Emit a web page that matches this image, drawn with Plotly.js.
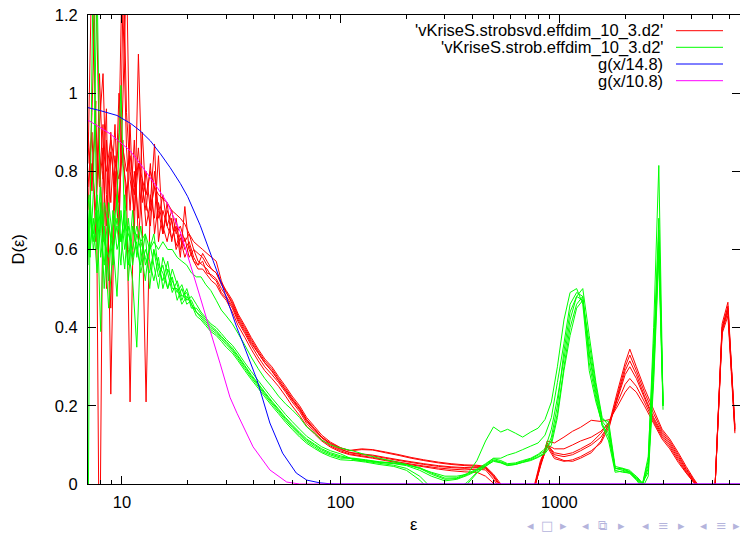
<!DOCTYPE html>
<html><head><meta charset="utf-8">
<script src="https://cdn.plot.ly/plotly-3.0.1.min.js"></script>
<style>html,body{margin:0;padding:0;background:#fff}#chart{width:740px;height:534px}</style>
</head><body><div id="chart"></div>
<script>
// ---------- data: 'vKriseS.strobsvd.effdim_10_3.d2' (red, several blocks) ----------
const redEps = [7.0, 7.3, 7.6, 7.9, 8.2, 8.5, 8.9, 9.3, 9.7, 10.1, 10.5, 10.9, 11.4, 11.9, 12.4, 12.9, 13.5, 14.1, 14.7, 15.4, 16.1, 16.9, 17.7, 18.5, 19.4, 20.3, 21.3, 22.3,
  23.4, 24.5, 25.7, 27, 28.5, 30, 32, 34, 36.5, 39, 42, 45, 48.5, 52, 56, 60, 65, 70, 76, 82, 90, 100,
  110, 125, 140, 160, 185, 210, 240, 280, 320, 370, 420, 460, 500, 540, 600, 700, 770, 820, 880, 950,
  1050, 1150, 1250, 1400, 1550, 1700, 1850, 2000, 2100, 2250, 2450, 2700, 2950, 3200, 3500, 3800, 4100, 4400, 4800, 5150, 5550, 5900, 6350];
const red1 = [0.82, 1.35, 0.88, 0.78, 0.92, 0.50, 0.85, 0.76, 0.90, 1.40, 0.95, 0.80, 0.74, 0.86, 0.72, 0.80, 0.70, 0.76, 0.68, 0.74, 0.66, 0.70, 0.64, 0.66, 0.62, 0.64, 0.60, 0.59,
  0.58, 0.56, 0.55, 0.54, 0.51, 0.49, 0.465, 0.43, 0.40, 0.37, 0.34, 0.315, 0.295, 0.27, 0.245, 0.22, 0.195, 0.165, 0.142, 0.12, 0.103, 0.09,
  0.08, 0.075, 0.072, 0.066, 0.06, 0.055, 0.05, 0.045, 0.042, 0.04, 0.042, 0.04, 0.018, -0.01, -0.05, -0.05, -0.01, 0.045, 0.10, 0.07,
  0.06, 0.058, 0.066, 0.08, 0.11, 0.16, 0.24, 0.31, 0.345, 0.30, 0.245, 0.19, 0.14, 0.115, 0.08, 0.045, 0.015, -0.01, -0.05, -0.01, 0.41, 0.465, 0.14];
const red2 = [0.70, 0.95, 1.30, 0.85, 0.62, 0.88, 0.72, 0.92, 0.66, 0.98, 1.32, 0.78, 0.70, 0.82, 0.66, 0.21, 0.74, 0.68, 0.84, 0.64, 0.72, 0.62, 0.68, 0.60, 0.63, 0.58, 0.60, 0.57,
  0.56, 0.55, 0.53, 0.52, 0.49, 0.475, 0.45, 0.415, 0.385, 0.355, 0.325, 0.30, 0.28, 0.26, 0.235, 0.21, 0.185, 0.155, 0.133, 0.113, 0.097, 0.085,
  0.077, 0.072, 0.068, 0.062, 0.056, 0.051, 0.046, 0.041, 0.038, 0.036, 0.038, 0.036, 0.012, -0.015, -0.05, -0.05, -0.005, 0.05, 0.095, 0.065,
  0.058, 0.062, 0.07, 0.085, 0.105, 0.15, 0.23, 0.30, 0.33, 0.29, 0.235, 0.18, 0.135, 0.11, 0.075, 0.04, 0.012, -0.01, -0.05, -0.01, 0.40, 0.45, 0.135];
const red3 = [0.90, 0.75, 0.98, -0.30, 0.80, 0.66, 0.90, 0.70, 1.00, 0.82, 0.76, 0.21, 0.80, 0.68, 0.90, 0.72, 0.66, 0.80, 0.70, 0.64, 0.70, 0.67, 0.61, 0.64, 0.60, 0.62, 0.58, 0.56,
  0.57, 0.54, 0.535, 0.525, 0.50, 0.48, 0.455, 0.42, 0.39, 0.36, 0.335, 0.31, 0.29, 0.265, 0.24, 0.215, 0.19, 0.16, 0.138, 0.118, 0.10, 0.088,
  0.081, 0.077, 0.074, 0.068, 0.062, 0.057, 0.052, 0.047, 0.044, 0.042, 0.044, 0.042, 0.02, -0.005, -0.05, -0.05, -0.008, 0.055, 0.105, 0.075,
  0.07, 0.075, 0.085, 0.10, 0.12, 0.155, 0.225, 0.29, 0.315, 0.28, 0.225, 0.17, 0.13, 0.105, 0.07, 0.037, 0.01, -0.012, -0.05, -0.01, 0.39, 0.44, 0.145];
const red4 = [0.60, 0.82, 0.70, 0.92, 1.05, 0.74, 0.45, 0.84, 0.72, 0.88, 0.70, 0.92, 0.64, 1.10, 0.76, 0.70, 0.82, 0.64, 0.72, 0.66, 0.62, 0.68, 0.60, 0.63, 0.58, 0.61, 0.57, 0.55,
  0.55, 0.535, 0.52, 0.51, 0.485, 0.47, 0.44, 0.405, 0.375, 0.345, 0.315, 0.29, 0.27, 0.25, 0.225, 0.20, 0.175, 0.148, 0.128, 0.11, 0.094, 0.082,
  0.075, 0.07, 0.066, 0.06, 0.054, 0.049, 0.044, 0.038, 0.034, 0.031, 0.03, 0.02, 0.002, -0.02, -0.05, -0.05, -0.002, 0.06, 0.098, 0.08,
  0.075, 0.08, 0.09, 0.105, 0.13, 0.16, 0.22, 0.28, 0.30, 0.27, 0.22, 0.165, 0.125, 0.10, 0.065, 0.033, 0.008, -0.015, -0.05, -0.01, 0.385, 0.43, 0.13];
const red5 = [0.76, 0.90, 0.62, 1.05, 0.78, 0.96, 0.23, 0.80, 0.62, 1.22, 0.86, 0.70, 0.88, 0.62, 0.78, 0.66, 0.72, 0.87, 0.62, 0.70, 0.66, 0.63, 0.66, 0.58, 0.71, 0.60, 0.57, 0.56,
  0.59, 0.57, 0.55, 0.54, 0.515, 0.495, 0.47, 0.435, 0.405, 0.375, 0.345, 0.32, 0.30, 0.275, 0.25, 0.225, 0.20, 0.17, 0.147, 0.125, 0.107, 0.093,
  0.085, 0.088, 0.087, 0.08, 0.073, 0.066, 0.06, 0.054, 0.05, 0.047, 0.046, 0.043, 0.022, -0.005, -0.05, -0.05, -0.01, 0.05, 0.10, 0.09,
  0.09, 0.10, 0.11, 0.12, 0.135, 0.16, 0.21, 0.255, 0.27, 0.25, 0.21, 0.16, 0.12, 0.095, 0.06, 0.03, 0.006, -0.015, -0.05, -0.01, 0.40, 0.455, 0.15];
const red6 = [0.86, 0.80, 0.92, 0.76, 0.86, 0.80, 0.88, 0.82, 0.78, 0.86, 0.80, 0.84, 0.76, 0.82, 0.78, 0.74, 0.80, 0.76, 0.74, 0.73, 0.72, 0.70, 0.69, 0.68, 0.665, 0.64, 0.62, 0.61,
  0.60, 0.59, 0.58, 0.57, 0.52, 0.49, 0.46, 0.425, 0.395, 0.365, 0.335, 0.31, 0.288, 0.265, 0.24, 0.217, 0.192, 0.163, 0.14, 0.12, 0.104, 0.092,
  0.086, 0.09, 0.088, 0.082, 0.075, 0.068, 0.062, 0.056, 0.052, 0.049, 0.048, 0.045, 0.025, 0.0, -0.05, -0.05, -0.01, 0.048, 0.11, 0.105,
  0.12, 0.135, 0.145, 0.163, 0.16, 0.165, 0.20, 0.235, 0.25, 0.235, 0.20, 0.155, 0.115, 0.09, 0.055, 0.028, 0.005, -0.015, -0.05, -0.01, 0.395, 0.445, 0.14];

// ---------- data: 'vKriseS.strob.effdim_10_3.d2' (green, several blocks) ----------
const greenEps = [7.0, 7.15, 7.4, 7.7, 8.0, 8.3, 8.7, 9.1, 9.5, 9.9, 10.3, 10.7, 11.2, 11.7, 12.2, 12.8, 13.4, 14.0, 14.7, 15.4, 16.2, 17.0, 17.9, 18.8, 19.8, 20.8, 21.9,
  23.0, 24.2, 25.5, 27, 28.5, 30, 32, 34, 36.5, 39, 42, 45, 48.5, 52, 56, 60, 65, 70, 76, 82, 90, 100,
  115, 130, 150, 175, 200, 230, 260, 300, 340, 380, 420, 460, 500, 540, 580, 630, 680, 740, 800, 860, 920, 980,
  1050, 1120, 1200, 1280, 1370, 1470, 1570, 1680, 1800, 1950, 2100, 2250, 2400, 2550, 2700, 2850, 2980];
const green1 = [-0.2, 0.70, 0.62, 0.74, 0.58, 0.66, 0.52, 0.70, 0.60, 0.64, 0.55, 0.68, 0.58, 0.62, 0.54, 0.60, 0.57, 0.52, 0.58, 0.50, 0.55, 0.52, 0.49, 0.51, 0.47, 0.48, 0.46,
  0.44, 0.425, 0.41, 0.40, 0.385, 0.37, 0.355, 0.335, 0.31, 0.288, 0.265, 0.243, 0.22, 0.2, 0.178, 0.16, 0.14, 0.122, 0.108, 0.095, 0.085, 0.077,
  0.062, 0.058, 0.053, 0.048, 0.04, 0.02, -0.01, -0.03, -0.02, 0.0, 0.028, 0.045, 0.06, 0.055, 0.048, 0.05, 0.056, 0.062, 0.07, 0.08, 0.12, 0.20,
  0.34, 0.44, 0.48, 0.47, 0.34, 0.24, 0.16, 0.14, 0.04, 0.035, 0.03, 0.015, 0.0, 0.06, 0.40, 0.815, 0.20];
const green2 = [0.62, 0.66, 1.35, 0.60, 0.72, 0.50, 0.68, 0.56, 0.74, 0.62, 0.70, 0.52, 0.66, 0.60, 0.56, 0.64, 0.50, 0.60, 0.53, 0.56, 0.50, 0.53, 0.47, 0.50, 0.46, 0.47, 0.44,
  0.425, 0.41, 0.395, 0.385, 0.37, 0.357, 0.34, 0.32, 0.295, 0.273, 0.25, 0.228, 0.205, 0.185, 0.163, 0.145, 0.125, 0.108, 0.095, 0.083, 0.074, 0.066,
  0.066, 0.062, 0.057, 0.054, 0.05, 0.04, 0.025, 0.012, 0.014, 0.024, 0.036, 0.05, 0.065, 0.06, 0.052, 0.054, 0.06, 0.066, 0.076, 0.09, 0.14, 0.22,
  0.32, 0.42, 0.48, 0.50, 0.38, 0.26, 0.17, 0.15, 0.04, 0.038, 0.032, 0.02, 0.003, 0.03, 0.30, 0.68, 0.20];
const green3 = [0.70, 0.58, 0.74, 1.30, 0.64, 0.56, 0.72, 0.62, 0.48, 0.70, 0.60, 0.66, 0.56, 0.64, 0.60, 0.52, 0.62, 0.56, 0.50, 0.58, 0.54, 0.49, 0.52, 0.48, 0.49, 0.45, 0.45,
  0.435, 0.42, 0.405, 0.393, 0.378, 0.365, 0.348, 0.328, 0.303, 0.28, 0.257, 0.235, 0.212, 0.192, 0.17, 0.152, 0.132, 0.115, 0.102, 0.09, 0.08, 0.072,
  0.063, 0.06, 0.055, 0.052, 0.047, 0.035, 0.02, 0.008, 0.012, 0.022, 0.034, 0.048, 0.062, 0.057, 0.05, 0.052, 0.058, 0.064, 0.074, 0.085, 0.11, 0.18,
  0.30, 0.40, 0.46, 0.48, 0.33, 0.23, 0.15, 0.13, 0.035, 0.03, 0.028, 0.012, -0.005, 0.05, 0.33, 0.62, 0.20];
const green4 = [0.56, 0.74, 0.60, 0.66, 0.76, 0.62, 0.58, 0.66, 0.72, 1.02, 0.64, 0.56, 0.70, 0.58, 0.66, 0.56, 0.60, 0.64, 0.55, 0.52, 0.57, 0.50, 0.50, 0.46, 0.48, 0.46, 0.43,
  0.42, 0.405, 0.39, 0.38, 0.365, 0.35, 0.335, 0.315, 0.29, 0.268, 0.245, 0.223, 0.2, 0.18, 0.158, 0.14, 0.12, 0.104, 0.091, 0.08, 0.07, 0.062,
  0.06, 0.056, 0.05, 0.045, 0.035, 0.01, -0.02, -0.03, -0.015, 0.005, 0.03, 0.046, 0.058, 0.054, 0.047, 0.05, 0.055, 0.06, 0.068, 0.078, 0.10, 0.17,
  0.29, 0.38, 0.45, 0.47, 0.36, 0.25, 0.165, 0.16, 0.045, 0.04, 0.035, 0.018, 0.0, 0.04, 0.28, 0.60, 0.21];
const green5 = [0.66, 0.60, 0.68, 0.54, 0.70, 0.64, 0.45, 0.60, 0.66, 0.56, 0.74, 0.60, 0.52, 0.35, 0.62, 0.58, 0.54, 0.60, 0.56, 0.54, 0.50, 0.55, 0.51, 0.47, 0.50, 0.46, 0.44,
  0.43, 0.415, 0.40, 0.39, 0.374, 0.362, 0.344, 0.325, 0.30, 0.277, 0.254, 0.232, 0.209, 0.189, 0.167, 0.149, 0.129, 0.112, 0.099, 0.087, 0.077, 0.069,
  0.065, 0.061, 0.056, 0.053, 0.049, 0.042, 0.028, 0.015, 0.016, 0.027, 0.038, 0.052, 0.066, 0.066, 0.074, 0.08, 0.088, 0.097, 0.105, 0.125, 0.17, 0.26,
  0.36, 0.46, 0.49, 0.48, 0.31, 0.22, 0.15, 0.11, 0.03, 0.033, 0.027, 0.01, -0.01, 0.02, 0.26, 0.58, 0.19];
const green6 = [0.74, 0.68, 0.64, 0.70, 0.39, 0.72, 0.66, 0.60, 0.68, 0.62, 0.66, 0.64, 0.60, 0.66, 0.62, 0.64, 0.60, 0.62, 0.60, 0.62, 0.60, 0.60, 0.58, 0.57, 0.56, 0.54, 0.53,
  0.53, 0.51, 0.495, 0.47, 0.445, 0.43, 0.41, 0.385, 0.355, 0.325, 0.295, 0.27, 0.248, 0.225, 0.205, 0.19, 0.17, 0.146, 0.13, 0.112, 0.10, 0.092,
  0.084, 0.075, 0.066, 0.058, 0.05, 0.04, 0.03, 0.02, 0.02, 0.025, 0.06, 0.11, 0.146, 0.133, 0.14, 0.13, 0.12, 0.133, 0.143, 0.165, 0.21, 0.30,
  0.42, 0.49, 0.50, 0.46, 0.29, 0.21, 0.155, 0.12, 0.04, 0.04, 0.03, 0.015, 0.0, 0.07, 0.36, 0.65, 0.205];

// ---------- data: g(x/14.8) (blue) and g(x/10.8) (magenta) ----------
const blueEps  = [7, 8, 9.5, 11, 12.1, 13.5, 15, 16.6, 18.5, 20, 22.8, 26.1, 29.6, 33.5, 35.8, 41.5, 47.5, 54.3, 62.7, 70, 80.3, 90, 100, 1000, 7000];
const blueVals = [0.963, 0.955, 0.943, 0.922, 0.904, 0.878, 0.845, 0.81, 0.769, 0.735, 0.662, 0.572, 0.488, 0.401, 0.36, 0.266, 0.156, 0.079, 0.028, 0.01, 0.003, 0.0005, 0, 0, 0];
const magentaEps  = [7, 7.15, 8.84, 10.9, 12.1, 14.5, 16.1, 18.5, 20.5, 22.8, 25.3, 28.1, 31.2, 33.6, 39.8, 47.5, 56.7, 65, 75, 1000, 7000];
const magentaVals = [0.93, 0.928, 0.896, 0.853, 0.82, 0.759, 0.72, 0.645, 0.564, 0.478, 0.393, 0.309, 0.222, 0.181, 0.095, 0.036, 0.005, 0.0, 0, 0, 0];

// ---------- labels / ticks ----------
const seriesNames = ["'vKriseS.strobsvd.effdim_10_3.d2'", "'vKriseS.strob.effdim_10_3.d2'", "g(x/14.8)", "g(x/10.8)"];
const seriesColors = ['#ff0000', '#00ff00', '#0000ff', '#ff00ff'];
const xTickVals = [10, 100, 1000];
const xTickText = ['10', '100', '1000'];
const xMinorTicks = [8, 9, 20, 30, 40, 50, 60, 70, 80, 90, 200, 300, 400, 500, 600, 700, 800, 900, 2000, 3000, 4000, 5000, 6000];
const yTickVals = [0, 0.2, 0.4, 0.6, 0.8, 1, 1.2];
const yTickText = ['0', '0.2', '0.4', '0.6', '0.8', '1', '1.2'];
const xTitle = 'ε', yTitle = 'D(ε)';
const navSymbols = ['◂', '□', '▸', '◂', '⧉', '▸', '◂', '≡', '▸', '◂', '≡', '▸'];

// ---------- traces ----------
const traces = [];
function addLine(x, y, color) {
  traces.push({x: x, y: y, type: 'scatter', mode: 'lines', line: {color: color, width: 1, simplify: false},
               hoverinfo: 'skip', showlegend: false});
}
[red1, red2, red3, red4, red5, red6].forEach(y => addLine(redEps, y, seriesColors[0]));
[green1, green2, green3, green4, green5, green6].forEach(y => addLine(greenEps, y, seriesColors[1]));
addLine(blueEps, blueVals, seriesColors[2]);
addLine(magentaEps, magentaVals, seriesColors[3]);

// ---------- layout ----------
const FONT = 'Liberation Sans, Arial, Helvetica, sans-serif';
const plotL = 88, plotR = 740, plotT = 15, plotB = 484;
const px2paperX = p => (p - plotL) / (plotR - plotL);
const px2paperY = p => (plotB - p) / (plotB - plotT);

const annotations = [];
const shapes = [];
const keyRows = [30.7, 47.3, 64, 80.7];
seriesNames.forEach((name, i) => {
  annotations.push({xref: 'paper', yref: 'paper', x: px2paperX(665), y: px2paperY(keyRows[i]),
    xanchor: 'right', yanchor: 'middle', text: name, showarrow: false,
    font: {family: FONT, size: 16.5, color: '#000'}});
  shapes.push({type: 'line', xref: 'paper', yref: 'paper', x0: px2paperX(676), x1: px2paperX(723),
    y0: px2paperY(keyRows[i]), y1: px2paperY(keyRows[i]), line: {color: seriesColors[i], width: 1}});
});
annotations.push({xref: 'paper', yref: 'paper', x: px2paperX(414), y: px2paperY(524), xanchor: 'center', yanchor: 'middle',
  text: xTitle, showarrow: false, font: {family: FONT, size: 16.5, color: '#000'}});
annotations.push({xref: 'paper', yref: 'paper', x: px2paperX(17), y: 0.5, xanchor: 'center', yanchor: 'middle', textangle: -90,
  text: yTitle, showarrow: false, font: {family: FONT, size: 16.5, color: '#000'}});
const navPx = [530, 547, 563, 585, 602, 621, 645, 663, 681, 703, 721, 736];
navSymbols.forEach((s, i) => {
  annotations.push({xref: 'paper', yref: 'paper', x: px2paperX(navPx[i]), y: px2paperY(525), xanchor: 'center', yanchor: 'middle',
    text: s, showarrow: false, font: {family: 'DejaVu Sans, sans-serif', size: 13, color: '#b4b4dc'}});
});

const axisCommon = {ticks: 'inside', ticklen: 8, tickwidth: 1, tickcolor: '#000', showline: true, linecolor: '#000', linewidth: 1,
  mirror: 'ticks', showgrid: false, zeroline: false, tickfont: {family: FONT, size: 16.5, color: '#000'}};

const layout = {
  width: 740, height: 534,
  margin: {l: plotL, r: 740 - plotR, t: plotT, b: 534 - plotB, pad: 0},
  paper_bgcolor: '#ffffff', plot_bgcolor: '#ffffff',
  font: {family: FONT, size: 16.5, color: '#000'},
  showlegend: false,
  xaxis: Object.assign({}, axisCommon, {type: 'log', range: [Math.log10(7), Math.log10(6700)], tickmode: 'array',
    tickvals: xTickVals, ticktext: xTickText, ticklabelstandoff: 3,
    minor: {tickmode: 'array', tickvals: xMinorTicks, ticks: 'inside', ticklen: 4, tickwidth: 1, tickcolor: '#000', showgrid: false}}),
  yaxis: Object.assign({}, axisCommon, {range: [0, 1.2], tickmode: 'array', tickvals: yTickVals, ticktext: yTickText,
    ticklabelstandoff: 6}),
  annotations: annotations,
  shapes: shapes
};

Plotly.newPlot('chart', traces, layout, {displayModeBar: false, staticPlot: true});
</script>
</body></html>
